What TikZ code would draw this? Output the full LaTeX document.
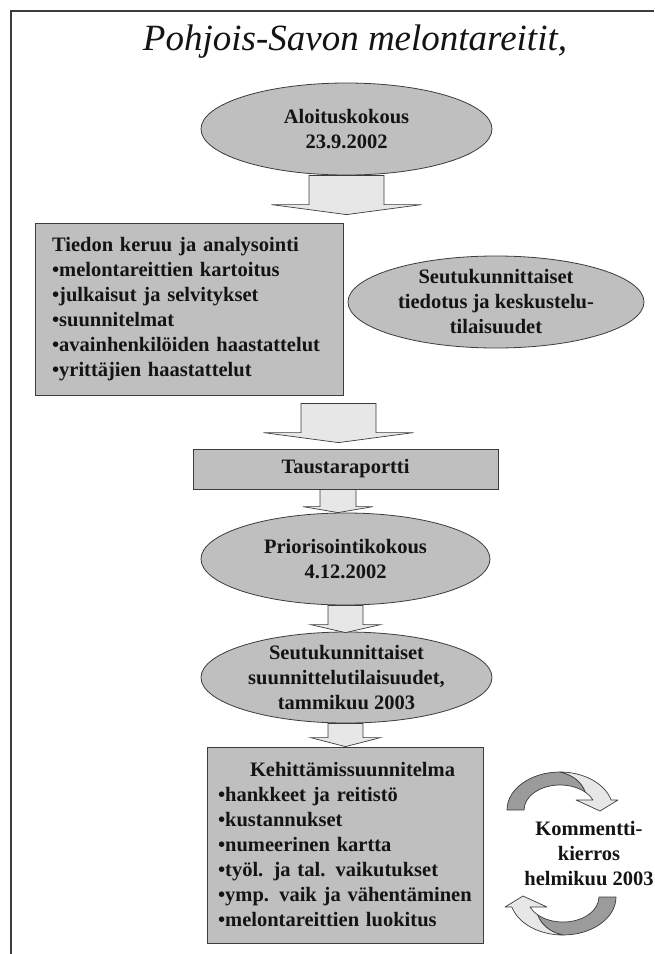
\documentclass[tikz,border=0pt]{standalone}
\usepackage{fontspec}
\setmainfont{Liberation Serif}
\usetikzlibrary{shapes.geometric}
\usetikzlibrary{calc}

\definecolor{boxgray}{RGB}{191,191,192}
\definecolor{arrowgray}{RGB}{231,231,232}
\definecolor{darkband}{RGB}{155,155,156}
\definecolor{edgegray}{RGB}{60,60,60}
\definecolor{textgray}{RGB}{20,20,20}

\newcommand{\bodyfont}{\fontsize{20.5}{25}\selectfont\bfseries}
\newcommand{\blockarrow}[5]{%
  \draw[blockarrow] let \p1=(#1), \p2=(#2) in
    (\x2-#3pt,\y1) -- (\x2+#3pt,\y1) -- (\x2+#3pt,\y2+#5pt) -- (\x2+#4pt,\y2+#5pt)
    -- (\x2,\y2) -- (\x2-#4pt,\y2+#5pt) -- (\x2-#3pt,\y2+#5pt) -- cycle;}

\tikzset{
  meeting/.style={ellipse, draw=edgegray, fill=boxgray, line width=0.8pt,
    inner xsep=0pt, inner ysep=-4pt, align=center, font=\bodyfont, text=textgray},
  phase/.style={rectangle, draw=edgegray, fill=boxgray, line width=0.8pt,
    font=\bodyfont, text=textgray},
  blockarrow/.style={draw=edgegray, fill=arrowgray, line width=0.7pt},
  band/.style={draw=edgegray, line width=0.7pt, line join=round},
}

\begin{document}
\begin{tikzpicture}[x=1pt,y=-1pt]
  \useasboundingbox (0,0) rectangle (654,954);
  \fill[white] (0,0) rectangle (654,954);
  \draw[line width=2.5pt, draw=edgegray] (11,954) -- (11,11) -- (654,11);

  \node[font=\fontsize{37}{40}\selectfont\itshape, text=textgray] (title) at (355,42)
    {Pohjois-Savon melontareitit,};

  \node[meeting, minimum width=291, minimum height=92] (aloitus) at (346.5,129)
    {Aloituskokous\\23.9.2002};
  \node[phase, minimum width=308, minimum height=172, text width=274, align=left,
    inner xsep=17] (tieto) at (189,309)
    {Tiedon keruu ja analysointi\\•melontareittien kartoitus\\•julkaisut ja selvitykset\\
     •suunnitelmat\\•avainhenkilöiden haastattelut\\•yrittäjien haastattelut};
  \node[meeting, minimum width=296, minimum height=92] (tiedotus) at (496,302)
    {Seutukunnittaiset\\tiedotus ja keskustelu-\\tilaisuudet};
  \node[phase, minimum width=305, minimum height=40] (tausta) at (345.5,469)
    {Taustaraportti};
  \node[meeting, minimum width=289, minimum height=92] (prior) at (345.5,559)
    {Priorisointikokous\\4.12.2002};
  \node[meeting, minimum width=291, minimum height=91] (suunn) at (346.5,677.5)
    {Seutukunnittaiset\\suunnittelutilaisuudet,\\tammikuu 2003};
  \node[phase, minimum width=276, minimum height=196, text width=254, align=left,
    inner xsep=11] (kehitys) at (345,845)
    {\hspace*{32pt}Kehittämissuunnitelma\\•hankkeet ja reitistö\\•kustannukset\\
     •numeerinen kartta\\•työl. ja tal. vaikutukset\\•ymp. vaik ja vähentäminen\\
     •melontareittien luokitus};
  \node[font=\bodyfont, text=textgray, align=center] (kommentti) at (589,854)
    {Kommentti-\\kierros\\helmikuu 2003};

  \blockarrow{aloitus.south}{$(aloitus.south |- tieto.north)+(0,-8)$}{37.5}{75}{10}
  \blockarrow{$(tieto.south)+(0,8)$}{$(tausta.north)+(-7,-6)$}{37.5}{75}{10}
  \blockarrow{tausta.south}{$(prior.north)+(-7.5,0)$}{18}{35}{6}
  \blockarrow{prior.south}{$(suunn.north)+(-1,1)$}{17.5}{35}{8}
  \blockarrow{suunn.south}{$(kehitys.north)+(0.5,0)$}{17.5}{35}{9}

  \foreach \turn in {0,180}{
    \begin{scope}[rotate around={\turn:(561.5,853.5)}]
      \draw[band, fill=darkband] (507,810)
        arc[start angle=180, end angle=270, x radius=53, y radius=38]
        .. controls (574,775) and (582,783) .. (585.5,792.3)
        arc[start angle=315, end angle=180, x radius=36, y radius=25] -- cycle;
      \draw[band, fill=arrowgray] (560,772)
        arc[start angle=270, end angle=344.7, x radius=53, y radius=38]
        -- (618,800) -- (600,811) -- (576,800) -- (593,800)
        arc[start angle=336.4, end angle=315, x radius=36, y radius=25]
        .. controls (582,783) and (574,775) .. (560,772) -- cycle;
    \end{scope}
  }
\end{tikzpicture}
\end{document}
